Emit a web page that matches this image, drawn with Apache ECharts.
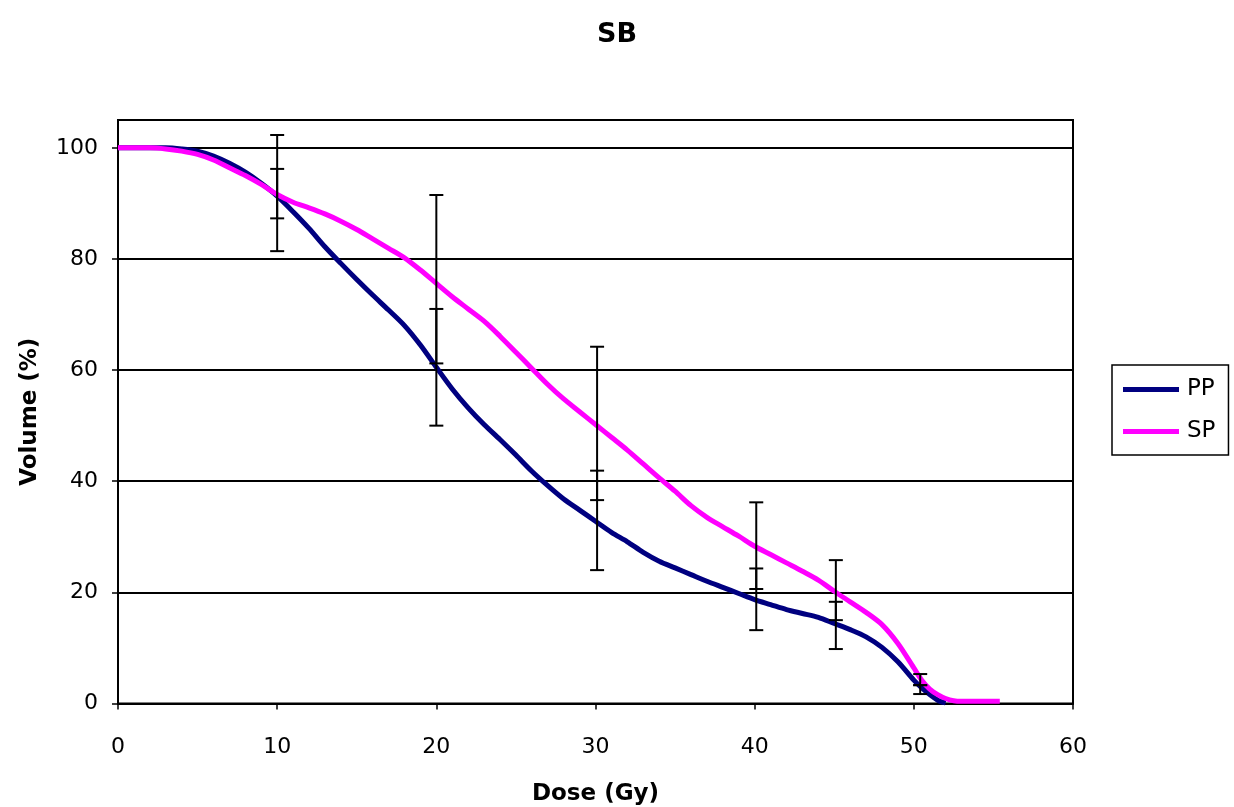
<!DOCTYPE html>
<html>
<head>
<meta charset="utf-8">
<script src="https://cdn.jsdelivr.net/npm/echarts@6/dist/echarts.min.js"></script>
<style>
html,body{margin:0;padding:0;background:#fff;}
#chart{width:1234px;height:807px;}
</style>
</head>
<body>
<div id="chart"></div>
<script>
// Dose (Gy) and Volume (%)
const ppDose = [0,1,2,3,4,5,6,7,8,9,10,11,12,13,14,15,16,17,18,19,20,21,22,23,24,25,26,27,28,29,30,31,32,33,34,35,36,37,38,39,40,41,42,43,44,45,46,47,48,49,50,50.5,51,51.5,52];
const ppVol  = [100,100,100,100,99.8,99.4,98.5,97.2,95.6,93.6,91.3,88.5,85.5,82.2,79.2,76.3,73.5,70.8,68,64.5,60.5,56.6,53.2,50.2,47.5,44.7,41.8,39.2,36.8,34.8,32.8,30.8,29.1,27.2,25.6,24.4,23.2,22,20.9,19.8,18.7,17.8,16.9,16.2,15.5,14.4,13.3,12.0,10.1,7.5,4.2,2.8,1.6,0.6,0.1];
const spDose = [0,1,2,3,4,5,6,7,8,9,10,11,12,13,14,15,16,17,18,19,20,21,22,23,24,25,26,27,28,29,30,31,32,33,34,35,36,37,38,39,40,41,42,43,44,45,46,47,48,49,50,50.5,51,51.5,52,52.5,53,55.4];
const spVol  = [100,100,100,99.8,99.4,98.8,97.8,96.4,95.0,93.4,91.6,90.2,89.2,88.1,86.8,85.3,83.6,81.9,80.2,78.0,75.6,73.2,71.0,68.8,66.1,63.2,60.3,57.4,54.8,52.5,50.2,47.9,45.6,43.1,40.6,38.2,35.6,33.5,31.8,30.1,28.3,26.8,25.3,23.8,22.2,20.2,18.3,16.4,14.2,10.8,6.4,4.2,2.6,1.6,0.9,0.5,0.4,0.4];

// Error bars: dose, low, high
const errDose = [10,20,30.1,40.1,45.1,50.4];
const ppErrLow  = [87.3,50.0,24.0,13.2,9.8,1.7];
const ppErrHigh = [96.2,71.0,41.9,24.3,18.3,3.3];
const spErrLow  = [81.4,61.2,36.6,20.6,15.0,3.3];
const spErrHigh = [102.3,91.5,64.2,36.2,25.8,5.3];

const xTicks = [0,10,20,30,40,50,60];

const toPairs = (xs, ys) => xs.map((x, i) => [x, ys[i]]);
const errData = [];
errDose.forEach((d, i) => {
  errData.push([d, ppErrLow[i], ppErrHigh[i]]);
  errData.push([d, spErrLow[i], spErrHigh[i]]);
});

const FONT = 'DejaVu Sans, Verdana, sans-serif';
const chart = echarts.init(document.getElementById('chart'));
chart.setOption({
  animation: false,
  backgroundColor: '#fff',
  title: {
    text: 'SB', left: 'center', top: 16,
    textStyle: {fontFamily: FONT, fontWeight: 'bold', fontSize: 27, color: '#000'}
  },
  legend: {
    orient: 'vertical', left: 1112, top: 365,
    padding: [13, 13, 12, 11],
    borderColor: '#000', borderWidth: 1.5,
    itemWidth: 56, itemHeight: 5, itemGap: 19,
    icon: 'rect',
    textStyle: {fontFamily: FONT, fontSize: 23, color: '#000', padding: [0, 0, 0, 3]},
    data: ['PP', 'SP']
  },
  grid: {
    left: 118, right: 161, top: 120, bottom: 103.5,
    containLabel: false, outerBoundsMode: 'none',
    show: true, borderColor: '#000', borderWidth: 2, backgroundColor: '#fff'
  },
  xAxis: {
    type: 'value', min: 0, max: 60, interval: 10,
    name: 'Dose (Gy)', nameLocation: 'middle', nameGap: 79,
    nameTextStyle: {fontFamily: FONT, fontWeight: 'bold', fontSize: 23, color: '#000'},
    axisLine: {show: true, lineStyle: {color: '#000', width: 2}},
    axisTick: {show: true, length: 6, inside: false, lineStyle: {color: '#000', width: 1.5}},
    axisLabel: {fontFamily: FONT, fontSize: 22, color: '#000', margin: 33,
      formatter: v => xTicks.includes(v) ? String(v) : ''},
    splitLine: {show: false}
  },
  yAxis: {
    type: 'value', min: 0, max: 105, interval: 20,
    name: 'Volume (%)', nameLocation: 'middle', nameGap: 76,
    nameTextStyle: {fontFamily: FONT, fontWeight: 'bold', fontSize: 23, color: '#000'},
    axisLine: {show: true, lineStyle: {color: '#000', width: 2}},
    axisTick: {show: true, length: 6, lineStyle: {color: '#000', width: 1.5}},
    axisLabel: {fontFamily: FONT, fontSize: 22, color: '#000', margin: 20, showMaxLabel: false},
    splitLine: {show: true, lineStyle: {color: '#000', width: 2}}
  },
  series: [
    {
      name: 'PP', type: 'line', data: toPairs(ppDose, ppVol),
      showSymbol: false, symbol: 'none', smooth: 0.3,
      color: '#000080',
      lineStyle: {color: '#000080', width: 5}, z: 3
    },
    {
      name: 'SP', type: 'line', data: toPairs(spDose, spVol),
      showSymbol: false, symbol: 'none', smooth: 0.3,
      color: '#FF00FF',
      lineStyle: {color: '#FF00FF', width: 5}, z: 4
    },
    {
      name: 'err', type: 'custom', z: 10,
      data: errData,
      renderItem: function (params, api) {
        const x = api.value(0);
        const lo = api.coord([x, api.value(1)]);
        const hi = api.coord([x, api.value(2)]);
        const hw = 7;
        const style = {stroke: '#000', lineWidth: 2};
        return {
          type: 'group',
          children: [
            {type: 'line', shape: {x1: lo[0], y1: lo[1], x2: hi[0], y2: hi[1]}, style: style},
            {type: 'line', shape: {x1: lo[0] - hw, y1: lo[1], x2: lo[0] + hw, y2: lo[1]}, style: style},
            {type: 'line', shape: {x1: hi[0] - hw, y1: hi[1], x2: hi[0] + hw, y2: hi[1]}, style: style}
          ]
        };
      }
    }
  ]
});
</script>
</body>
</html>
